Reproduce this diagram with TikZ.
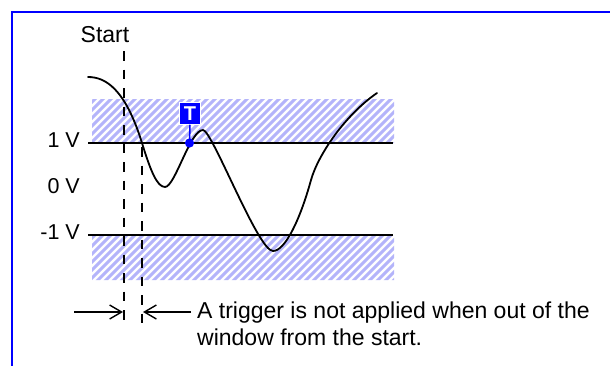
\documentclass[tikz,border=0pt]{standalone}
\usepackage{fontspec}
\setmainfont{Liberation Sans}
\usetikzlibrary{arrows.meta}
\definecolor{frameblue}{RGB}{0,0,255}
\definecolor{hatchblue}{RGB}{180,180,250}
\tikzset{
  lbl/.style={font=\fontsize{21.5}{25}\selectfont, inner sep=0pt, anchor=base east},
  txt/.style={font=\fontsize{23}{27}\selectfont, inner sep=0pt, anchor=base west},
  level/.style={line width=1.8pt},
  marker/.style={dash pattern=on 9.5pt off 9pt, line width=1.8pt},
  wave/.style={line width=1.8pt, line cap=round},
  hatchline/.style={hatchblue, line width=3pt},
  dimarrow/.style={line width=1.4pt, -{Straight Barb[length=12pt,width=14pt,line width=1.4pt]}},
}
\begin{document}
\begin{tikzpicture}[x=1pt,y=-1pt]
\useasboundingbox (0,0) rectangle (610,365);
\fill[white] (0,0) rectangle (610,365);
% frame (only top and left visible)
\draw[frameblue, line width=2pt] (12,366) -- (12,11.5) -- (611,11.5);

% hatched bands
\begin{scope}
  \clip (92,99) rectangle (394,143) (92,235) rectangle (394,280);
  \foreach \i in {-120,-112,...,420} {
    \draw[hatchline] (\i,290) -- ++(200,-200);
  }
\end{scope}

% level lines
\coordinate (hiL) at (88,143);
\coordinate (hiR) at (393,143);
\coordinate (loL) at (88,235);
\coordinate (loR) at (393,235);
\draw[level] (hiL) -- (hiR);
\draw[level] (loL) -- (loR);

% labels
\node[lbl] (l1) at (80,147.5) {1 V};
\node[lbl] (l0) at (80,193.5) {0 V};
\node[lbl] (lm1) at (80,239.5) {-1 V};

% start marker and window marker
\node[txt, anchor=base] (start) at (105,42) {Start};
\coordinate (s1) at (124,51);
\coordinate (s2) at (124,328);
\coordinate (w1) at (142,147);
\coordinate (w2) at (142,328);
\draw[marker] (s1) -- (s2);
\draw[marker] (w1) -- (w2);

% waveform
\draw[wave] (88,77) .. controls (105,77) and (125,88) .. (142,143)
  .. controls (150.5,170.5) and (157,187) .. (165,187)
  .. controls (175,187) and (190,130) .. (203,130)
  .. controls (212,130) and (258,251) .. (273,251)
  .. controls (285,251) and (300,220) .. (311,180)
  .. controls (318,155) and (345,115) .. (377,93);

% trigger mark
\node[fill=frameblue, draw=white, line width=1pt, minimum width=21pt, minimum height=21.5pt, inner sep=0pt,
      text=white, font=\fontsize{20}{20}\selectfont\bfseries] (T) at (190,113.5) {T};
\coordinate (dotc) at (189.5,143);
\fill[frameblue] (dotc) circle (4.6pt);
\draw[frameblue, line width=1.5pt] (T.south) -- (dotc);

% dimension arrows
\coordinate (a1) at (74,312);
\coordinate (a2) at (123,312);
\coordinate (b1) at (191,312);
\coordinate (b2) at (143,312);
\draw[dimarrow] (a1) -- (a2);
\draw[dimarrow] (b1) -- (b2);

% note text
\node[txt] (note1) at (197,318.5) {A trigger is not applied when out of the};
\node[txt] (note2) at (197,345.5) {window from the start.};
\end{tikzpicture}
\end{document}
